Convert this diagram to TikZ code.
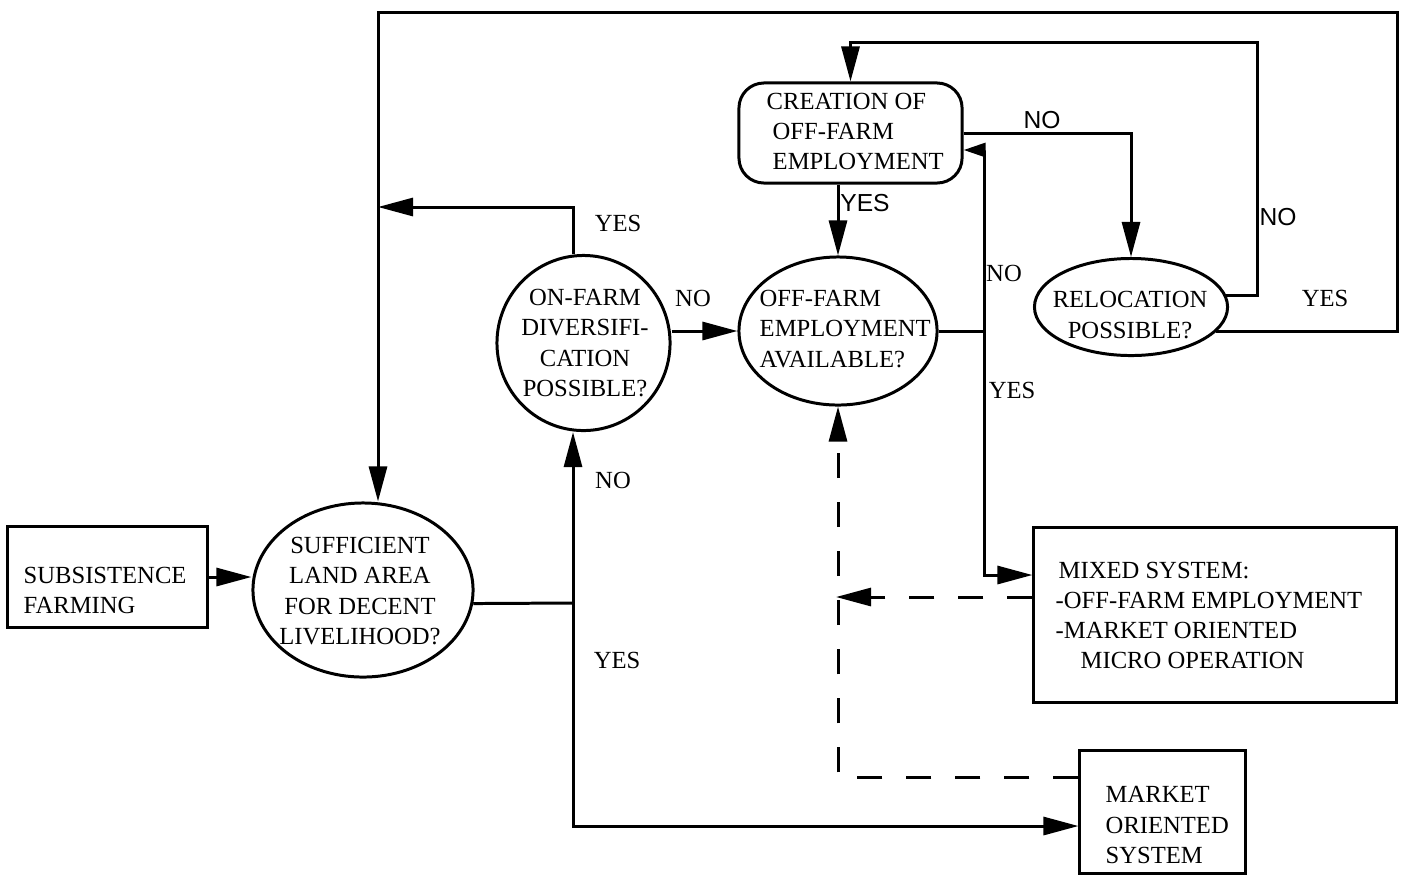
\documentclass[tikz,border=0pt]{standalone}
\usepackage{fontspec}
\setmainfont{Liberation Serif}
\newfontfamily\handfont{Liberation Sans}
\usetikzlibrary{arrows.meta,shapes.geometric,calc}
\begin{document}
\begin{tikzpicture}[x=0.01cm,y=-0.01cm,
  every node/.style={font=\fontsize{7}{8.54}\selectfont},
  line/.style={line width=0.85pt},
  arr/.style={line, -{Triangle[length=0.35cm,width=0.18cm]}},
  sarr/.style={line, -{Triangle[length=0.22cm,width=0.14cm]}},
  dsh/.style={line, dash pattern=on 0.25cm off 0.24cm},
  boxnode/.style={draw, line width=0.85pt, rectangle, inner sep=0pt},
  rbox/.style={draw, line width=0.85pt, rectangle, rounded corners=0.25cm, inner sep=0pt},
  decision/.style={draw, line width=0.85pt, ellipse, inner sep=0pt},
  txt/.style={align=left, inner sep=0pt},
  ctxt/.style={align=center, inner sep=0pt},
  lbl/.style={inner sep=0pt},
  hand/.style={inner sep=0pt, font=\handfont\fontsize{7}{8.54}\selectfont}
]
\useasboundingbox (0,0) rectangle (1401,875);

% shapes
\node[boxnode, minimum width=1.99cm, minimum height=1.00cm] (sub) at (107.5,577) {};
\node[txt, anchor=west] (subt) at (23,590) {SUBSISTENCE\\FARMING};

\node[decision, minimum width=2.20cm, minimum height=1.74cm] (suf) at (363,590) {};
\node[ctxt] (suft) at (360,591) {SUFFICIENT\\LAND AREA\\FOR DECENT\\LIVELIHOOD?};

\node[decision, minimum width=1.73cm, minimum height=1.75cm] (onf) at (583.5,343) {};
\node[ctxt] (onft) at (585,343) {ON-FARM\\DIVERSIFI-\\CATION\\POSSIBLE?};

\node[decision, minimum width=1.98cm, minimum height=1.48cm] (off) at (838,331) {};
\node[txt, anchor=west] (offt) at (759,329) {OFF-FARM\\EMPLOYMENT\\AVAILABLE?};

\node[rbox, minimum width=2.23cm, minimum height=1.00cm] (cre) at (850.5,133) {};
\node[txt, anchor=west] (cret) at (766,131) {CREATION OF\\\hspace*{0.06cm}OFF-FARM\\\hspace*{0.06cm}EMPLOYMENT};

\node[decision, minimum width=1.93cm, minimum height=0.97cm] (rel) at (1131,307) {};
\node[ctxt] (relt) at (1130,315) {RELOCATION\\POSSIBLE?};

\node[boxnode, minimum width=3.62cm, minimum height=1.74cm] (mix) at (1215,615) {};
\node[txt, anchor=west] (mixt) at (1055,615) {\hspace*{0.03cm}MIXED SYSTEM:\\-OFF-FARM EMPLOYMENT\\-MARKET ORIENTED\\\hspace*{0.25cm}MICRO OPERATION};

\node[boxnode, minimum width=1.65cm, minimum height=1.22cm] (mkt) at (1162.5,812) {};
\node[txt, anchor=west] (mktt) at (1105,825) {MARKET\\ORIENTED\\SYSTEM};

% junction coordinates
\coordinate (j1) at (573,603);
\coordinate (j2) at (378,207);
\coordinate (tr) at (1397,12);
\coordinate (j4) at (984,331);
\coordinate (j5) at (1257,42);
\coordinate (d1) at (836,597);

% connectors
\draw[arr] (sub.east) -- (sub.east -| suf.west);
\draw[line] (suf.-7) -- (j1);
\draw[arr] (j1) -- (j1 |- onf.south);
\draw[arr] (j1) |- ($(mkt.west)+(0,14)$);
\draw[arr] (j1 |- onf.north) |- (j2);
\draw[arr] (rel.-16) -| (tr) -| (j2 |- suf.north);
\draw[arr] (off.west -| onf.east) -- (off.west);
\draw[arr] (off.north |- cre.south) -- (off.north);
\draw[line] (off.east) -- (j4);
\draw[sarr] (j4) |- ($(cre.east)+(0,17)$);
\draw[arr] (j4) |- ($(mix.west)+(0,-40)$);
\draw[arr] (cre.east) -| (rel.north);
\draw[arr] (rel.7) -| (j5) -| (cre.north);
\draw[dsh, -{Triangle[length=0.35cm,width=0.18cm]}] ($(mix.west)+(0,-18)$) -- (d1);
\draw[dsh, -{Triangle[length=0.35cm,width=0.18cm]}] ($(mkt.west)+(0,-35)$) -| (off.south);

% labels
\node[lbl] (l1) at (618,223) {YES};
\node[lbl] (l2) at (693,298) {NO};
\node[lbl] (l3) at (613,480) {NO};
\node[lbl] (l4) at (617,660) {YES};
\node[hand] (l5) at (865,203) {YES};
\node[hand] (l6) at (1042,120) {NO};
\node[lbl] (l7) at (1004,273) {NO};
\node[lbl] (l8) at (1012,390) {YES};
\node[hand] (l9) at (1278,217) {NO};
\node[lbl] (l10) at (1325,298) {YES};
\end{tikzpicture}
\end{document}
